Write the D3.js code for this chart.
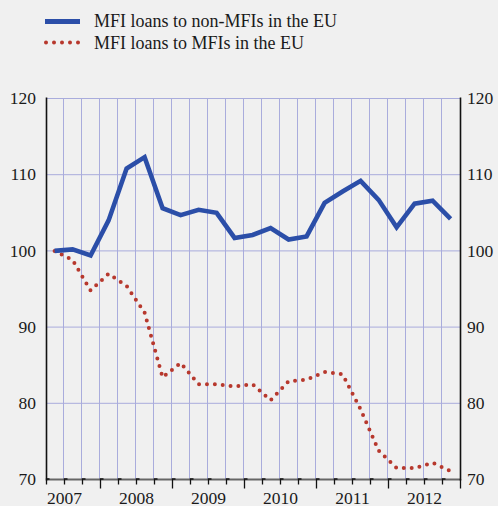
<!DOCTYPE html>
<html><head><meta charset="utf-8">
<script src="https://cdn.jsdelivr.net/npm/d3@7/dist/d3.min.js"></script>
<style>
html,body{margin:0;padding:0;background:#f0f0f0;}
svg{display:block;}
svg text{font-family:"Liberation Serif","Times New Roman",serif;}
</style></head>
<body>
<script>
// Quarterly observations, 2007 Q2 .. 2012 Q4 (index = quarter position)
const quarters = d3.range(23);
const nonMFI = [100.0,100.2,99.4,104.0,110.8,112.3,105.6,104.7,105.4,105.0,101.7,102.1,103.0,101.5,101.9,106.3,107.8,109.2,106.7,103.1,106.2,106.6,104.2];
const MFI    = [100.0,98.8,94.8,97.0,95.4,91.9,83.4,85.3,82.5,82.5,82.2,82.5,80.4,82.9,83.1,84.1,83.8,79.2,73.8,71.5,71.5,72.2,71.1];
const years = [2007,2008,2009,2010,2011,2012];
// quarter-boundary index where each year starts (2007 starts before the axis)
const yearStart = [-1,3,7,11,15,19];
const yTicks = [70,80,90,100,110,120];
const seriesNames = ["MFI loans to non-MFIs in the EU","MFI loans to MFIs in the EU"];

const W=498,H=506;
const svg=d3.select("body").append("svg").attr("width",W).attr("height",H);
svg.append("rect").attr("width",W).attr("height",H).attr("fill","#f0f0f0");

const x=d3.scaleLinear().domain([0,23]).range([46.5,460.5]);
const y=d3.scaleLinear().domain([70,120]).range([479.5,98.5]);
const blue="#2b4ea8", red="#b7382d", grid="#a9acdc";

svg.append("g").selectAll("line").data(d3.range(1,23)).join("line")
  .attr("x1",d=>x(d)-1).attr("x2",d=>x(d)-1).attr("y1",y(120)).attr("y2",y(70))
  .attr("stroke",grid).attr("stroke-width",1);
svg.append("g").selectAll("line").data(yTicks.filter(v=>v>70)).join("line")
  .attr("x1",x(0)).attr("x2",x(23)).attr("y1",d=>y(d)).attr("y2",d=>y(d))
  .attr("stroke",grid).attr("stroke-width",1);

svg.append("line").attr("x1",x(0)).attr("x2",x(23)).attr("y1",y(70)).attr("y2",y(70))
  .attr("stroke","#666").attr("stroke-width",2.2);
[0,23].forEach(v=>{
  svg.append("line").attr("x1",x(v)).attr("x2",x(v)).attr("y1",y(120)-1).attr("y2",y(70)+1)
    .attr("stroke","#111").attr("stroke-width",1.6);
});
const yearBounds=new Set(yearStart.filter(v=>v>=0).concat([23]));
svg.append("g").selectAll("path").data(d3.range(0,24)).join("path")
  .attr("d",d=>{const px=x(d), y0=y(70); const len=yearBounds.has(d)?9:5;
     return `M${px},${y0+len}V${y0-0.5}H${Math.min(px+3,x(23))}`;})
  .attr("fill","none").attr("stroke","#111").attr("stroke-width",1.3);

svg.append("g").selectAll("text").data(years).join("text")
  .attr("x",(d,i)=>x(yearStart[i]+2)).attr("y",504).attr("text-anchor","middle")
  .attr("font-size",17.5).attr("fill","#1a1a1a").text(d=>d);

svg.append("g").selectAll("text").data(yTicks).join("text")
  .attr("x",36).attr("y",d=>y(d)).attr("dy","0.33em").attr("text-anchor","end")
  .attr("font-size",17.5).attr("fill","#1a1a1a").text(d=>d);
svg.append("g").selectAll("text").data(yTicks).join("text")
  .attr("x",467).attr("y",d=>y(d)).attr("dy","0.33em").attr("text-anchor","start")
  .attr("font-size",17.5).attr("fill","#1a1a1a").text(d=>d);

const line=d3.line().x((d,i)=>x(quarters[i]+0.45)).y(d=>y(d));
svg.append("path").datum(MFI).attr("d",line).attr("fill","none")
  .attr("stroke",red).attr("stroke-width",4).attr("stroke-linecap","round")
  .attr("stroke-dasharray","0 7.9");
svg.append("path").datum(nonMFI).attr("d",line).attr("fill","none")
  .attr("stroke",blue).attr("stroke-width",4.6).attr("stroke-linejoin","miter");

const lg=svg.append("g");
lg.append("line").attr("x1",45).attr("x2",80).attr("y1",21.5).attr("y2",21.5)
  .attr("stroke",blue).attr("stroke-width",5);
lg.append("line").attr("x1",46).attr("x2",78.5).attr("y1",42.5).attr("y2",42.5)
  .attr("stroke",red).attr("stroke-width",4).attr("stroke-linecap","round")
  .attr("stroke-dasharray","0 8");
lg.selectAll("text").data(seriesNames).join("text")
  .attr("x",94).attr("y",(d,i)=>27+i*21.5).attr("font-size",18).attr("fill","#1a1a1a").text(d=>d);
</script>
</body></html>
